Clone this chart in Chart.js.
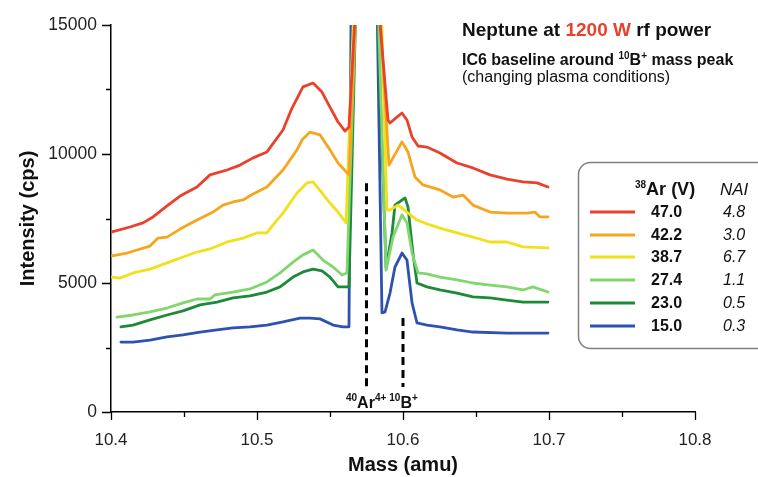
<!DOCTYPE html>
<html>
<head>
<meta charset="utf-8">
<script src="https://cdn.jsdelivr.net/npm/chart.js@4/dist/chart.umd.min.js"></script>
<style>
  html, body { margin: 0; padding: 0; background: #fff; }
  canvas { display: block; }
</style>
</head>
<body>
<canvas id="chart" width="758" height="477"></canvas>
<script>
// ===== datos =====
const arVolts = ['47.0', '42.2', '38.7', '27.4', '23.0', '15.0'];
const naiValues = ['4.8', '3.0', '6.7', '1.1', '0.5', '0.3'];
const massTicks = [10.4, 10.5, 10.6, 10.7, 10.8];
const cpsTicks = [0, 5000, 10000, 15000];

const mass47 = [10.4007, 10.4130, 10.4219, 10.4288, 10.4384, 10.4473, 10.4589, 10.4678, 10.4795, 10.4884, 10.4973, 10.5068, 10.5178, 10.5240, 10.5315, 10.5384, 10.5445, 10.5500, 10.5555, 10.5603, 10.5630, 10.5678, 10.5750, 10.5829, 10.5897, 10.5911, 10.5952, 10.5993, 10.6027, 10.6062, 10.6103, 10.6164, 10.6253, 10.6370, 10.6479, 10.6596, 10.6712, 10.6822, 10.6918, 10.6993];
const cps47 = [6980, 7170, 7330, 7560, 7990, 8370, 8720, 9190, 9380, 9570, 9850, 10080, 10930, 11780, 12600, 12750, 12400, 11820, 11240, 10890, 11050, 16000, 150000, 16000, 11320, 11200, 11400, 11590, 11320, 10660, 10310, 10270, 10040, 9650, 9460, 9190, 9030, 8920, 8880, 8720];

const mass42 = [10.4007, 10.4110, 10.4178, 10.4267, 10.4322, 10.4384, 10.4473, 10.4589, 10.4699, 10.4767, 10.4836, 10.4904, 10.4973, 10.5068, 10.5178, 10.5274, 10.5308, 10.5363, 10.5432, 10.5500, 10.5555, 10.5630, 10.5678, 10.5750, 10.5836, 10.5904, 10.5993, 10.6034, 10.6082, 10.6137, 10.6253, 10.6342, 10.6411, 10.6479, 10.6596, 10.6712, 10.6849, 10.6904, 10.6938, 10.6993];
const cps42 = [6050, 6160, 6280, 6430, 6740, 6780, 7090, 7440, 7750, 8020, 8140, 8220, 8450, 8720, 9380, 10160, 10540, 10850, 10740, 10160, 9650, 9190, 16000, 150000, 16000, 9570, 10470, 10080, 9110, 8800, 8610, 8330, 8410, 8020, 7750, 7710, 7710, 7750, 7560, 7560];

const mass38 = [10.4007, 10.4062, 10.4151, 10.4267, 10.4384, 10.4493, 10.4589, 10.4678, 10.4795, 10.4904, 10.5000, 10.5068, 10.5110, 10.5178, 10.5274, 10.5342, 10.5384, 10.5445, 10.5500, 10.5555, 10.5610, 10.5665, 10.5750, 10.5850, 10.5890, 10.5911, 10.5966, 10.6027, 10.6096, 10.6185, 10.6253, 10.6370, 10.6479, 10.6596, 10.6712, 10.6822, 10.6993];
const cps38 = [5230, 5190, 5390, 5540, 5780, 6010, 6200, 6320, 6590, 6740, 6940, 6940, 7250, 7710, 8490, 8880, 8920, 8490, 8100, 7750, 7330, 16000, 150000, 16000, 7830, 7830, 8020, 7750, 7440, 7250, 7130, 6940, 6780, 6590, 6590, 6400, 6360];

const mass27 = [10.4041, 10.4151, 10.4267, 10.4384, 10.4493, 10.4589, 10.4678, 10.4712, 10.4836, 10.4952, 10.5068, 10.5158, 10.5247, 10.5315, 10.5384, 10.5452, 10.5521, 10.5582, 10.5616, 10.5678, 10.5750, 10.5829, 10.5884, 10.5932, 10.5993, 10.6027, 10.6062, 10.6103, 10.6164, 10.6253, 10.6370, 10.6479, 10.6596, 10.6712, 10.6822, 10.6890, 10.6993];
const cps27 = [3680, 3760, 3880, 4030, 4230, 4380, 4380, 4540, 4650, 4770, 5040, 5390, 5810, 6090, 6280, 5890, 5620, 5310, 5390, 16000, 150000, 16000, 5500, 6780, 7640, 7330, 6160, 5390, 5350, 5230, 5120, 5000, 4920, 4850, 4730, 4850, 4650];

const mass23 = [10.4068, 10.4151, 10.4267, 10.4384, 10.4493, 10.4610, 10.4726, 10.4836, 10.4952, 10.5068, 10.5158, 10.5247, 10.5315, 10.5384, 10.5445, 10.5500, 10.5555, 10.5630, 10.5678, 10.5750, 10.5822, 10.5884, 10.5925, 10.5945, 10.6014, 10.6034, 10.6068, 10.6096, 10.6164, 10.6253, 10.6370, 10.6479, 10.6596, 10.6712, 10.6822, 10.6993];
const cps23 = [3300, 3370, 3570, 3760, 3920, 4150, 4260, 4420, 4500, 4650, 4850, 5230, 5430, 5540, 5470, 5230, 4850, 4850, 16000, 150000, 16000, 5580, 6940, 8020, 8300, 7950, 6160, 5000, 4850, 4730, 4610, 4460, 4420, 4340, 4260, 4260];

const mass15 = [10.4068, 10.4151, 10.4267, 10.4384, 10.4493, 10.4610, 10.4726, 10.4836, 10.4952, 10.5068, 10.5178, 10.5295, 10.5363, 10.5432, 10.5521, 10.5589, 10.5630, 10.5645, 10.5750, 10.5822, 10.5856, 10.5877, 10.5911, 10.5945, 10.5993, 10.6027, 10.6062, 10.6096, 10.6164, 10.6253, 10.6370, 10.6479, 10.6712, 10.6993];
const cps15 = [2710, 2710, 2790, 2910, 2990, 3100, 3180, 3260, 3300, 3370, 3490, 3640, 3640, 3610, 3370, 3300, 3300, 16000, 150000, 16000, 3840, 3880, 4610, 5620, 6160, 5890, 4230, 3450, 3370, 3300, 3180, 3100, 3060, 3060];

// marcadores de pico (40Ar4+ y 10B+)
const markerMass = [10.575, 10.6];
const markerTop = [8870, 3640];
const markerBottom = [970, 970];

const SERIES_COLORS = ['#e8412c', '#f7a51e', '#f2e01b', '#82d66f', '#1d8a38', '#2d52b0'];
const FONT = "'Liberation Sans', Arial, Helvetica, sans-serif";

const seriesMass = [mass47, mass42, mass38, mass27, mass23, mass15];
const seriesCps = [cps47, cps42, cps38, cps27, cps23, cps15];

function toPoints(xs, ys) {
    return xs.map((x, i) => ({ x: x, y: ys[i] }));
}

const datasets = seriesMass.map((m, i) => ({
    label: arVolts[i],
    data: toPoints(m, seriesCps[i]),
    borderColor: SERIES_COLORS[i],
    borderWidth: 2.8,
    pointRadius: 0,
    tension: 0,
    fill: false,
    clip: 0,
    borderJoinStyle: 'round',
    borderCapStyle: 'round'
}));

markerMass.forEach((m, i) => {
    datasets.push({
        label: 'marker' + i,
        data: [{ x: m, y: markerTop[i] }, { x: m, y: markerBottom[i] }],
        borderColor: '#000',
        borderWidth: 3,
        borderDash: [8, 5],
        pointRadius: 0,
        fill: false,
        clip: 0
    });
});

// texto con superindices
function drawRuns(ctx, x, y, runs) {
    let cx = x;
    runs.forEach(r => {
        ctx.font = r.font;
        ctx.fillStyle = r.color || '#111';
        ctx.fillText(r.t, cx, y + (r.dy || 0));
        cx += ctx.measureText(r.t).width + (r.gap || 0);
    });
    return cx;
}

const decorPlugin = {
    id: 'decor',
    afterDraw(chart) {
        const ctx = chart.ctx;
        const xs = chart.scales.x;
        const ys = chart.scales.y;
        const area = chart.chartArea;
        ctx.save();

        // marcas de los ejes
        ctx.strokeStyle = '#000';
        ctx.lineWidth = 1.3;
        ctx.beginPath();
        for (let v = 10.4; v <= 10.8001; v += 0.05) {
            const px = Math.round(xs.getPixelForValue(v)) + 0.5;
            const major = Math.abs(v * 10 - Math.round(v * 10)) < 1e-6;
            ctx.moveTo(px, area.bottom);
            ctx.lineTo(px, area.bottom + (major ? 8 : 5));
        }
        for (let v = 0; v <= 15000; v += 2500) {
            const py = Math.round(ys.getPixelForValue(v)) + 0.5;
            ctx.moveTo(area.left, py);
            ctx.lineTo(area.left - (v % 5000 === 0 ? 9 : 5), py);
        }
        ctx.stroke();

        // titulos de ejes
        ctx.fillStyle = '#111';
        ctx.textAlign = 'center';
        ctx.textBaseline = 'middle';
        ctx.font = `bold 20px ${FONT}`;
        ctx.fillText('Mass (amu)', (area.left + area.right) / 2, 465);
        ctx.save();
        ctx.translate(28, (area.top + area.bottom) / 2);
        ctx.rotate(-Math.PI / 2);
        ctx.fillText('Intensity (cps)', 0, 0);
        ctx.restore();

        // etiqueta de picos
        ctx.textAlign = 'left';
        ctx.textBaseline = 'alphabetic';
        const big = `bold 16px ${FONT}`;
        const sup = `bold 10px ${FONT}`;
        drawRuns(ctx, 346, 408, [
            { t: '40', font: sup, dy: -7 },
            { t: 'Ar', font: big },
            { t: '4+', font: sup, dy: -7, gap: 3 },
            { t: '10', font: sup, dy: -7 },
            { t: 'B', font: big },
            { t: '+', font: sup, dy: -7 }
        ]);

        // titulo
        drawRuns(ctx, 462, 36, [
            { t: 'Neptune at ', font: `bold 19px ${FONT}` },
            { t: '1200 W', font: `bold 19px ${FONT}`, color: '#e8412c' },
            { t: ' rf power', font: `bold 19px ${FONT}` }
        ]);
        drawRuns(ctx, 462, 65, [
            { t: 'IC6 baseline around ', font: `bold 16px ${FONT}` },
            { t: '10', font: `bold 10px ${FONT}`, dy: -6 },
            { t: 'B', font: `bold 16px ${FONT}` },
            { t: '+', font: `bold 10px ${FONT}`, dy: -6 },
            { t: ' mass peak', font: `bold 16px ${FONT}` }
        ]);
        drawRuns(ctx, 462, 82, [
            { t: '(changing plasma conditions)', font: `16px ${FONT}` }
        ]);

        // leyenda
        ctx.strokeStyle = '#808080';
        ctx.lineWidth = 1.5;
        ctx.beginPath();
        ctx.roundRect(578.5, 162.5, 200, 186, 12);
        ctx.fillStyle = '#fff';
        ctx.fill();
        ctx.stroke();

        drawRuns(ctx, 635, 195, [
            { t: '38', font: `bold 10px ${FONT}`, dy: -7 },
            { t: 'Ar (V)', font: `bold 18px ${FONT}` }
        ]);
        ctx.font = `italic 17px ${FONT}`;
        ctx.fillStyle = '#111';
        ctx.fillText('NAI', 720, 195);

        const rowY = [212, 235, 257, 280, 303, 326];
        rowY.forEach((ry, i) => {
            ctx.strokeStyle = SERIES_COLORS[i];
            ctx.lineWidth = 3;
            ctx.beginPath();
            ctx.moveTo(590, ry);
            ctx.lineTo(635, ry);
            ctx.stroke();
            ctx.fillStyle = '#111';
            ctx.textBaseline = 'middle';
            ctx.font = `bold 16px ${FONT}`;
            ctx.fillText(arVolts[i], 651, ry + 1);
            ctx.font = `italic 16px ${FONT}`;
            ctx.fillText(naiValues[i], 723, ry + 1);
            ctx.textBaseline = 'alphabetic';
        });

        ctx.restore();
    }
};

new Chart(document.getElementById('chart'), {
    type: 'line',
    data: { datasets: datasets },
    options: {
        responsive: false,
        devicePixelRatio: 1,
        animation: false,
        layout: { padding: { left: 0, top: 25, right: 63, bottom: 0 } },
        plugins: {
            legend: { display: false },
            tooltip: { enabled: false }
        },
        scales: {
            x: {
                type: 'linear',
                min: 10.4,
                max: 10.8,
                afterBuildTicks: scale => { scale.ticks = massTicks.map(v => ({ value: v })); },
                afterFit: scale => { scale.height = 65; },
                grid: { display: false },
                border: { display: true, color: '#000', width: 1.5 },
                ticks: {
                    padding: 10,
                    color: '#222',
                    font: { size: 17, family: FONT },
                    callback: v => Number(v).toFixed(1)
                }
            },
            y: {
                min: 0,
                max: 15000,
                afterBuildTicks: scale => { scale.ticks = cpsTicks.map(v => ({ value: v })); },
                afterFit: scale => { scale.width = 111; },
                grid: { display: false },
                border: { display: true, color: '#000', width: 1.5 },
                ticks: {
                    padding: 6,
                    color: '#222',
                    font: { size: 17.5, family: FONT },
                    callback: v => String(v)
                }
            }
        }
    },
    plugins: [decorPlugin]
});
</script>
</body>
</html>
